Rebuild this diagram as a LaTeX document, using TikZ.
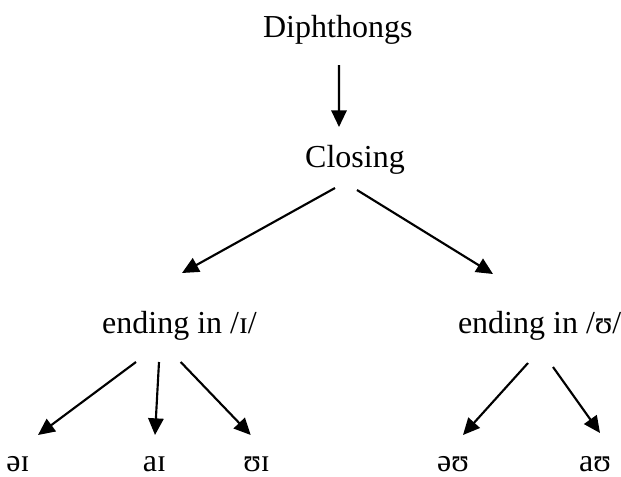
\documentclass[tikz,border=0pt]{standalone}
\usepackage{fontspec}
\setmainfont{Liberation Serif}
\usetikzlibrary{arrows.meta,calc}
\begin{document}
\begin{tikzpicture}[x=0.75pt,y=-0.75pt,
  lbl/.style={inner sep=0pt,outer sep=0pt,font=\fontsize{24}{28}\selectfont},
  arr/.style={line width=1.6pt,-{Triangle[length=12.5pt,width=11.5pt]}}]
\useasboundingbox (0,0) rectangle (621,476);
\node[lbl,anchor=base] (dip) at (337.8,37) {Diphthongs};
\node[lbl,anchor=base] (clo) at (355,167) {Closing};
\node[lbl,anchor=base] (l1) at (179.5,333) {ending in /ɪ/};
\node[lbl,anchor=base west] (r1) at (458,333) {ending in /ʊ/};
\node[lbl,anchor=base] (ei) at (18,471) {əɪ};
\node[lbl,anchor=base] (ai) at (154.5,471) {aɪ};
\node[lbl,anchor=base] (oi) at (256.5,471) {ʊɪ};
\node[lbl,anchor=base] (eu) at (453,471) {əʊ};
\node[lbl,anchor=base] (au) at (595,471) {aʊ};
\draw[arr] ($(dip.base)+(1.2,28)$) -- ($(clo.base)+(-16,-40)$);
\draw[arr] ($(clo.base)+(-20,21)$) -- ($(l1.base)+(2.5,-60)$);
\draw[arr] ($(clo.base)+(2,23)$) -- ($(r1.base west)+(35,-59)$);
\draw[arr] ($(l1.base)+(-43.5,29)$) -- ($(ei.base)+(20,-36)$);
\draw[arr] ($(l1.base)+(-20.5,29)$) -- ($(ai.base)+(0.5,-36)$);
\draw[arr] ($(l1.base)+(1.2,29)$) -- ($(oi.base)+(-5.8,-36)$);
\draw[arr] ($(r1.base west)+(70,30)$) -- ($(eu.base)+(10,-36)$);
\draw[arr] ($(r1.base west)+(95,34)$) -- ($(au.base)+(5,-38)$);
\end{tikzpicture}
\end{document}
